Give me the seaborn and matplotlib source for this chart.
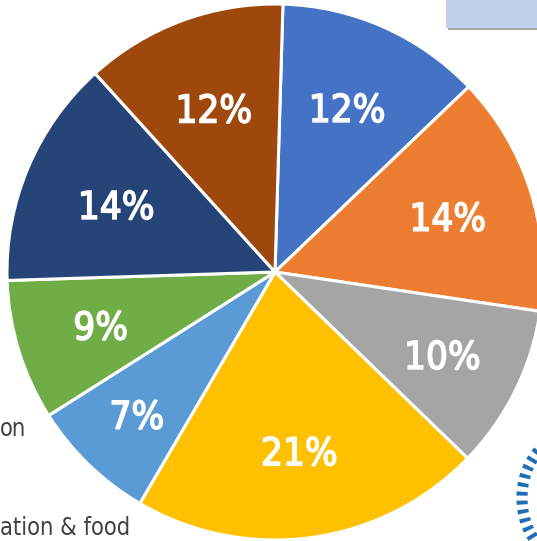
import matplotlib
matplotlib.use("Agg")
import numpy as np
import matplotlib.pyplot as plt
import seaborn as sns
from matplotlib.patches import Rectangle, Ellipse, PathPatch
from matplotlib.textpath import TextPath
from matplotlib.font_manager import FontProperties
from matplotlib.transforms import Affine2D

# slice shares (clockwise from the top)
shares = [12.4, 14.5, 9.9, 21.2, 7.6, 8.5, 13.8, 12.2]
pct_labels = ["12%", "14%", "10%", "21%", "7%", "9%", "14%", "12%"]
colors = ["#4472C4", "#ED7D31", "#A5A5A5", "#FFC000",
          "#5B9BD5", "#70AD47", "#264478", "#9E480E"]

sns.set_theme(style="white")
plt.rcParams["font.family"] = ["DejaVu Sans"]

W, H = 537, 541
fig = plt.figure(figsize=(W / 100, H / 100), dpi=100)
fig.patch.set_facecolor("white")

# pie centre at (275, 272) px from the top-left, radius ~268 px
cx, cy, r = 275, 272, 268
ax = fig.add_axes([(cx - r) / W, (H - cy - r) / H, 2 * r / W, 2 * r / H])

wedges, _ = ax.pie(
    shares, colors=colors, startangle=88.3, counterclock=False, radius=1,
    wedgeprops=dict(edgecolor="white", linewidth=2.2),
)
ax.set_xlim(-1, 1)
ax.set_ylim(-1, 1)
ax.set_aspect("equal")
ax.axis("off")

# narrow, tall percentage labels: condensed glyph outlines stretched vertically
prop = FontProperties(family="DejaVu Sans", weight="normal", stretch="condensed")
ref = TextPath((0, 0), "12%", size=10, prop=prop).get_extents()
sx = (71 / r) / ref.width
sy = (29 / r) / ref.height
label_r = [0.67, 0.68, 0.70, 0.675, 0.74, 0.68, 0.64, 0.65]
for w, lab, lr in zip(wedges, pct_labels, label_r):
    ang = np.deg2rad((w.theta1 + w.theta2) / 2)
    px, py = lr * np.cos(ang), lr * np.sin(ang)
    tp = TextPath((0, 0), lab, size=10, prop=prop)
    bb = tp.get_extents()
    tr = (Affine2D().translate(-(bb.x0 + bb.x1) / 2, -(bb.y0 + bb.y1) / 2)
          .scale(sx, sy).translate(px, py))
    ax.add_patch(PathPatch(tr.transform_path(tp), facecolor="white",
                           edgecolor="white", linewidth=1.1))

# leftovers of the surrounding slide
fig.text(0, (H - 429) / H, "on", fontsize=17, color="#404040",
         ha="left", va="center", fontstretch="condensed")
fig.text(0, (H - 528) / H, "ation & food", fontsize=17, color="#404040",
         ha="left", va="center", fontstretch="condensed")

ov = fig.add_axes([0, 0, 1, 1], facecolor="none")
ov.set_xlim(0, W)
ov.set_ylim(H, 0)
ov.axis("off")
ov.add_patch(Rectangle((448, 1), 92, 29, facecolor="#A6A6A6", edgecolor="none"))
ov.add_patch(Rectangle((446, -2), 92, 30, facecolor="#BFD1EA", edgecolor="none"))
ov.add_patch(Ellipse((566, 498), 88, 120, facecolor="none", edgecolor="#1F6DB5",
                     linewidth=8, linestyle=(0, (0.35, 0.45))))

fig.savefig("out.png", dpi=100)
